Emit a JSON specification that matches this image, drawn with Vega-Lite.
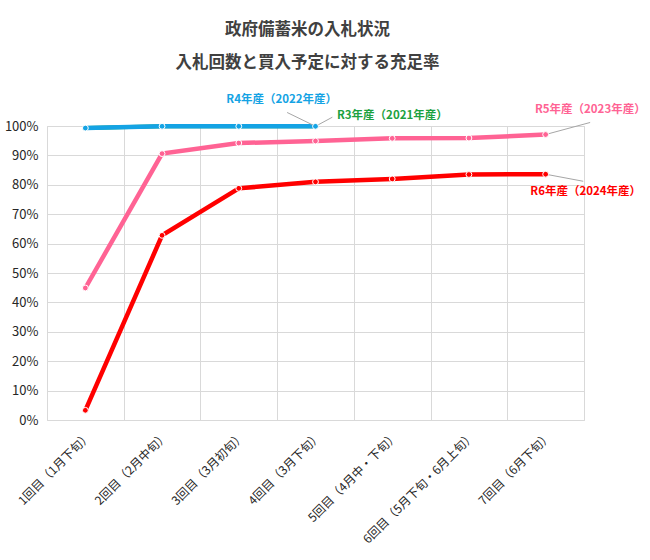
{
  "$schema": "https://vega.github.io/schema/vega-lite/v6.json",
  "description": "政府備蓄米の入札状況 - 入札回数と買入予定に対する充足率",
  "width": 537,
  "height": 294,
  "autosize": "none",
  "padding": {"left": 47, "top": 126, "right": 66, "bottom": 140},
  "background": "white",
  "config": {
    "font": "Noto Sans CJK JP",
    "view": {"stroke": "#d9d9d9", "strokeWidth": 1}
  },
  "title": {
    "text": ["政府備蓄米の入札状況", "入札回数と買入予定に対する充足率"],
    "fontSize": 16.5,
    "fontWeight": "bold",
    "color": "#404040",
    "lineHeight": 33,
    "anchor": "middle",
    "dx": -8,
    "offset": 22
  },
  "resolve": {"axis": {"x": "independent", "y": "independent"}},
  "data": {
    "values": [
      {"series": "R3", "round": 1, "rate": 0.993},
      {"series": "R3", "round": 2, "rate": 0.999},
      {"series": "R3", "round": 3, "rate": 0.999},
      {"series": "R3", "round": 4, "rate": 0.999},
      {"series": "R4", "round": 1, "rate": 0.993},
      {"series": "R4", "round": 2, "rate": 0.999},
      {"series": "R4", "round": 3, "rate": 0.999},
      {"series": "R4", "round": 4, "rate": 0.999},
      {"series": "R5", "round": 1, "rate": 0.449},
      {"series": "R5", "round": 2, "rate": 0.906},
      {"series": "R5", "round": 3, "rate": 0.942},
      {"series": "R5", "round": 4, "rate": 0.949},
      {"series": "R5", "round": 5, "rate": 0.958},
      {"series": "R5", "round": 6, "rate": 0.959},
      {"series": "R5", "round": 7, "rate": 0.971},
      {"series": "R6", "round": 1, "rate": 0.033},
      {"series": "R6", "round": 2, "rate": 0.628},
      {"series": "R6", "round": 3, "rate": 0.788},
      {"series": "R6", "round": 4, "rate": 0.81},
      {"series": "R6", "round": 5, "rate": 0.82},
      {"series": "R6", "round": 6, "rate": 0.835},
      {"series": "R6", "round": 7, "rate": 0.836}
    ]
  },
  "layer": [
    {
      "encoding": {
        "x": {
          "field": "round",
          "type": "quantitative",
          "scale": {"domain": [0.5, 7.5], "nice": false, "zero": false},
          "axis": {
            "title": null,
            "values": [0.5, 1, 1.5, 2, 2.5, 3, 3.5, 4, 4.5, 5, 5.5, 6, 6.5, 7, 7.5],
            "labelExpr": "datum.value % 1 == 0 ? ['', '1回目（1月下旬）', '2回目（2月中旬）', '3回目（3月初旬）', '4回目（3月下旬）', '5回目（4月中・下旬）', '6回目（5月下旬・6月上旬）', '7回目（6月下旬）'][datum.value] : ''",
            "labelAngle": -45,
            "labelFontSize": 12,
            "labelColor": "#262626",
            "labelPadding": 10,
            "labelOverlap": false,
            "labelBound": false,
            "labelFlush": false,
            "ticks": false,
            "domain": false,
            "grid": true,
            "gridColor": "#d9d9d9",
            "gridOpacity": {"condition": {"test": "datum.value % 1 != 0", "value": 1}, "value": 0}
          }
        },
        "y": {
          "field": "rate",
          "type": "quantitative",
          "scale": {"domain": [0, 1], "nice": false},
          "axis": {
            "title": null,
            "format": ".0%",
            "values": [0, 0.1, 0.2, 0.3, 0.4, 0.5, 0.6, 0.7, 0.8, 0.9, 1],
            "labelFontSize": 13,
            "labelColor": "#262626",
            "labelPadding": 9,
            "ticks": false,
            "domain": false,
            "gridColor": "#d9d9d9"
          }
        },
        "color": {
          "field": "series",
          "type": "nominal",
          "scale": {
            "domain": ["R3", "R4", "R5", "R6"],
            "range": ["#1ba140", "#14a3e4", "#ff6394", "#ff0000"]
          },
          "legend": null
        }
      },
      "layer": [
        {
          "transform": [{"filter": "datum.series == 'R3'"}],
          "mark": {"type": "line", "strokeWidth": 4}
        },
        {
          "transform": [{"filter": "datum.series != 'R3'"}],
          "mark": {"type": "line", "strokeWidth": 4.5}
        }
      ]
    },
    {
      "data": {"values": [{"leader": "R4年産"}]},
      "mark": {"type": "rule", "strokeWidth": 1, "color": "#a6a6a6"},
      "encoding": {
        "x": {"datum": 3.63, "type": "quantitative", "axis": null},
        "y": {"datum": 1.046, "type": "quantitative", "axis": null},
        "x2": {"datum": 4},
        "y2": {"datum": 0.999}
      }
    },
    {
      "data": {"values": [{"leader": "R3年産"}]},
      "mark": {"type": "rule", "strokeWidth": 1, "color": "#a6a6a6"},
      "encoding": {
        "x": {"datum": 4, "type": "quantitative", "axis": null},
        "y": {"datum": 0.999, "type": "quantitative", "axis": null},
        "x2": {"datum": 4.22},
        "y2": {"datum": 1.03}
      }
    },
    {
      "data": {"values": [{"leader": "R5年産"}]},
      "mark": {"type": "rule", "strokeWidth": 1, "color": "#a6a6a6"},
      "encoding": {
        "x": {"datum": 7, "type": "quantitative", "axis": null},
        "y": {"datum": 0.971, "type": "quantitative", "axis": null},
        "x2": {"datum": 7.58},
        "y2": {"datum": 1.012}
      }
    },
    {
      "data": {"values": [{"leader": "R6年産"}]},
      "mark": {"type": "rule", "strokeWidth": 1, "color": "#a6a6a6"},
      "encoding": {
        "x": {"datum": 7, "type": "quantitative", "axis": null},
        "y": {"datum": 0.836, "type": "quantitative", "axis": null},
        "x2": {"datum": 7.49},
        "y2": {"datum": 0.812}
      }
    },
    {
      "transform": [{"filter": "datum.series != 'R3'"}],
      "mark": {"type": "point", "filled": true, "size": 34, "opacity": 1, "stroke": "white", "strokeWidth": 1},
      "encoding": {
        "x": {"field": "round", "type": "quantitative", "axis": null},
        "y": {"field": "rate", "type": "quantitative", "axis": null},
        "color": {"field": "series", "type": "nominal", "legend": null}
      }
    },
    {
      "data": {"values": [{"label": "R4年産（2022年産）"}]},
      "mark": {"type": "text", "align": "center", "baseline": "middle", "fontSize": 11.5, "fontWeight": "bold", "color": "#14a3e4"},
      "encoding": {"x": {"datum": 3.56, "type": "quantitative", "axis": null}, "y": {"datum": 1.09, "type": "quantitative", "axis": null}, "text": {"field": "label"}}
    },
    {
      "data": {"values": [{"label": "R3年産（2021年産）"}]},
      "mark": {"type": "text", "align": "left", "baseline": "middle", "fontSize": 11.5, "fontWeight": "bold", "color": "#1ba140"},
      "encoding": {"x": {"datum": 4.28, "type": "quantitative", "axis": null}, "y": {"datum": 1.033, "type": "quantitative", "axis": null}, "text": {"field": "label"}}
    },
    {
      "data": {"values": [{"label": "R5年産（2023年産）"}]},
      "mark": {"type": "text", "align": "left", "baseline": "middle", "fontSize": 11.5, "fontWeight": "bold", "color": "#ff6394"},
      "encoding": {"x": {"datum": 6.86, "type": "quantitative", "axis": null}, "y": {"datum": 1.055, "type": "quantitative", "axis": null}, "text": {"field": "label"}}
    },
    {
      "data": {"values": [{"label": "R6年産（2024年産）"}]},
      "mark": {"type": "text", "align": "left", "baseline": "middle", "fontSize": 11.5, "fontWeight": "bold", "color": "#ff0000"},
      "encoding": {"x": {"datum": 6.8, "type": "quantitative", "axis": null}, "y": {"datum": 0.775, "type": "quantitative", "axis": null}, "text": {"field": "label"}}
    }
  ]
}
